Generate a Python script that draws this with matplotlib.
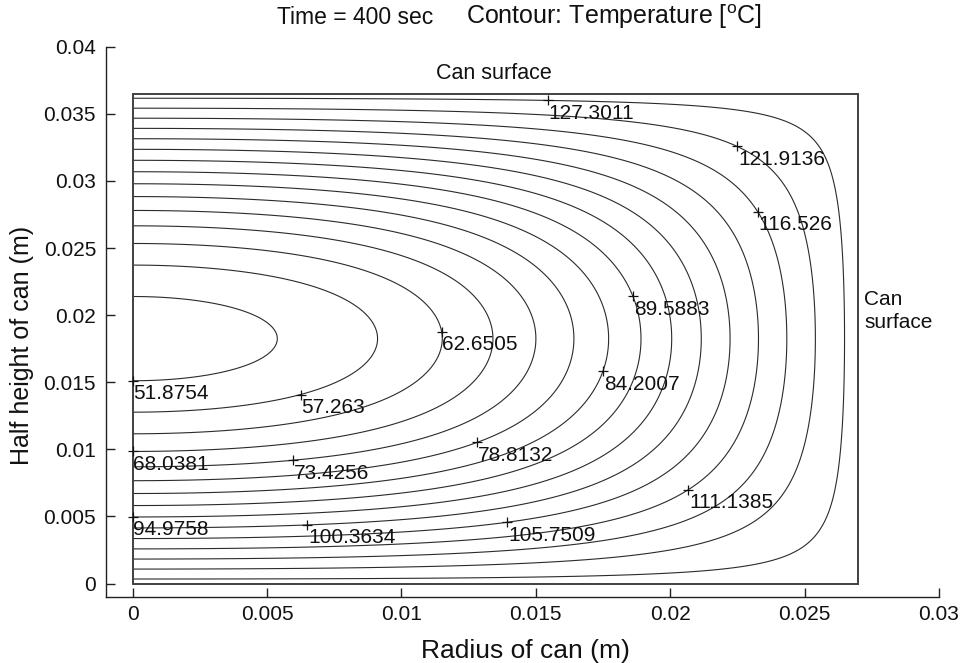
import numpy as np
import matplotlib
matplotlib.use('Agg')
import matplotlib.pyplot as plt
from matplotlib.patches import Rectangle

plt.rcParams['font.family'] = ['Liberation Sans', 'DejaVu Sans']
plt.rcParams['mathtext.fontset'] = 'custom'
plt.rcParams['mathtext.rm'] = 'Liberation Sans'

# ---- data -------------------------------------------------------------
# contour levels (deg C)
levels = [51.8754, 57.263, 62.6505, 68.0381, 73.4256, 78.8132, 84.2007,
          89.5883, 94.9758, 100.3634, 105.7509, 111.1385, 116.526,
          121.9136, 127.3011]
# where each level gets its inline label (m)
label_r = [0.0, 0.00625, 0.01146, 0.0, 0.00597, 0.01282, 0.01744, 0.01852,
           0.0, 0.00653, 0.01397, 0.02059, 0.02314, 0.02246, 0.01543]
label_z = [0.01501, 0.01410, 0.01874, 0.00979, 0.00917, 0.01061, 0.01589,
           0.02135, 0.00485, 0.00457, 0.00450, 0.00731, 0.02758, 0.03242,
           0.03595]

# can geometry and heating conditions
can_radius = 0.027       # m
can_height = 0.0365      # m
time_s = 400.0           # s
alpha = 1.374e-7         # thermal diffusivity, m^2/s
T_surface = 129.8        # deg C
T_initial = 26.45        # deg C

x_ticks = [0, 0.005, 0.01, 0.015, 0.02, 0.025, 0.03]
y_ticks = [0, 0.005, 0.01, 0.015, 0.02, 0.025, 0.03, 0.035, 0.04]

# ---- conduction in a finite cylinder (product solution) ---------------
bessel_zeros = np.array([2.404826, 5.520078, 8.653728, 11.791534, 14.930918,
                         18.071064, 21.211637, 24.352472, 27.493479,
                         30.634606, 33.775820, 36.917098, 40.058426,
                         43.199792, 46.341188, 49.482610, 52.624052,
                         55.765511])
_tau = np.linspace(0, np.pi, 3001)


def bessel_j(n, x):
    x = np.asarray(x, float)
    integrand = np.cos(n * _tau - x[..., None] * np.sin(_tau))
    return np.trapezoid(integrand, _tau, axis=-1) / np.pi


def infinite_cylinder(r, fo):
    lam = bessel_zeros
    coef = 2.0 / (lam * bessel_j(1, lam))
    j0 = bessel_j(0, np.outer(np.asarray(r) / can_radius, lam))
    return (coef * j0 * np.exp(-lam ** 2 * fo)).sum(axis=-1)


def infinite_slab(z, half, fo, nterms=60):
    mu = (2 * np.arange(nterms) + 1) * np.pi / 2
    coef = 2 * (-1.0) ** np.arange(nterms) / mu
    xi = (np.asarray(z) - half) / half
    return (coef * np.cos(np.outer(xi, mu)) * np.exp(-mu ** 2 * fo)).sum(axis=-1)


half = can_height / 2
fo_r = alpha * time_s / can_radius ** 2
fo_z = alpha * time_s / half ** 2
r_grid = np.linspace(0, can_radius, 300)
z_grid = np.linspace(0, can_height, 400)
theta = np.outer(infinite_slab(z_grid, half, fo_z), infinite_cylinder(r_grid, fo_r))
temperature = T_surface + (T_initial - T_surface) * theta

# ---- figure -------------------------------------------------------------
W, Hpx = 963, 663
fig = plt.figure(figsize=(W / 100, Hpx / 100), dpi=100)
ax = fig.add_axes([0.1098, 0.0995, 0.8653, 0.8301])
ax.set_xlim(-0.001, 0.03)
ax.set_ylim(-0.001, 0.04)

line_col = '#2b2b2b'
cs = ax.contour(r_grid, z_grid, temperature, levels=levels,
                colors=line_col, linewidths=0.8)

ax.add_patch(Rectangle((0, 0), can_radius, can_height, fill=False,
                       edgecolor='#404040', linewidth=1.4, zorder=3))

# inline labels: '+' on the line, value to its lower right
for lev, segs, lr, lz in zip(levels, cs.allsegs, label_r, label_z):
    verts = np.vstack([s for s in segs if len(s)])
    disp = ax.transData.transform(verts)
    target = ax.transData.transform((lr, lz))
    k = np.argmin(((disp - target) ** 2).sum(axis=1))
    px, pz = verts[k]
    ax.plot(px, pz, marker='+', color='#111111', ms=6.5, mew=0.9, zorder=4)
    ax.annotate(str(lev), (px, pz), xytext=(0.6, -2.4),
                textcoords='offset points', ha='left', va='top',
                fontsize=15, color='#111111', zorder=5)

for s in ('top', 'right'):
    ax.spines[s].set_visible(False)
for s in ('left', 'bottom'):
    ax.spines[s].set_linewidth(1.0)
    ax.spines[s].set_color('#222222')

ax.set_xticks(x_ticks)
ax.set_xticklabels([f'{v:g}' for v in x_ticks])
ax.set_yticks(y_ticks)
ax.set_yticklabels([f'{v:g}' for v in y_ticks])
ax.tick_params(direction='in', length=6.5, width=1.0, color='#222222',
               labelsize=15, labelcolor='#111111')
ax.tick_params(axis='x', pad=6)
ax.tick_params(axis='y', pad=7)

ax.text(0.01343, 0.0380, 'Can surface', ha='center', va='center',
        fontsize=15.5, color='#111111')
ax.text(0.02722, 0.0203, 'Can\nsurface', ha='left', va='center',
        fontsize=15, color='#111111', linespacing=1.25)

fig.text(433 / W, 1 - 17 / Hpx, 'Time = 400 sec', ha='right', va='center',
         fontsize=16.5, color='#111111')
fig.text(466 / W, 1 - 17 / Hpx, r'Contour: Temperature [$^{\mathrm{o}}$C]',
         ha='left', va='center', fontsize=18, color='#111111')
fig.text(525 / W, 1 - 651 / Hpx, 'Radius of can (m)', ha='center',
         va='center', fontsize=19, color='#111111')
fig.text(22 / W, 1 - 345 / Hpx, 'Half height of can (m)', ha='center',
         va='center', rotation=90, fontsize=18, color='#111111')

fig.savefig('out.png', dpi=100)
